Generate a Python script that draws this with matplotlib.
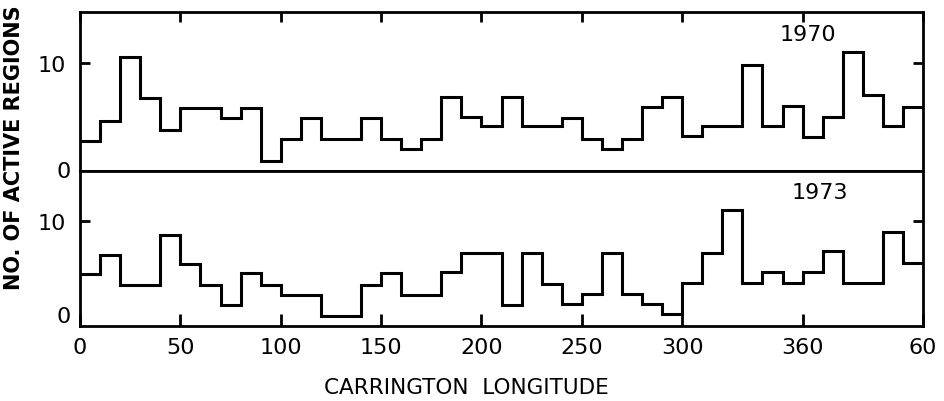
"""Active regions vs Carrington longitude, 1970 and 1973."""

import matplotlib.pyplot as plt
import numpy as np

# 10-degree bins, 0..360 then wrapped on to 60 (=420)
lon_edges = np.arange(0, 430, 10)

n_1970 = [2.7, 4.6, 10.5, 6.7, 3.8, 5.8, 5.8, 4.9, 5.8, 0.9,
          2.9, 4.9, 2.9, 2.9, 4.9, 2.9, 2.0, 2.9, 6.8, 5.0,
          4.1, 6.8, 4.1, 4.1, 4.9, 2.9, 2.0, 2.9, 5.9, 6.8,
          3.2, 4.1, 4.1, 9.8, 4.1, 6.0, 3.1, 5.0, 11.0, 7.0,
          4.1, 5.9]
n_1973 = [4.4, 6.4, 3.2, 3.2, 8.5, 5.5, 3.2, 1.1, 4.5, 3.2,
          2.2, 2.2, 0.0, 0.0, 3.2, 4.5, 2.2, 2.2, 4.6, 6.6,
          6.6, 1.1, 6.6, 3.3, 1.2, 2.3, 6.6, 2.3, 1.2, 0.2,
          3.4, 6.6, 11.1, 3.4, 4.6, 3.4, 4.6, 6.8, 3.4, 3.4,
          8.8, 5.6]

xtick_pos = [0, 50, 100, 150, 200, 250, 300, 360, 420]
xtick_lab = ["0", "50", "100", "150", "200", "250", "300", "360", "60"]

plt.rcParams["font.family"] = "DejaVu Sans"

W, H = 944, 402
fig = plt.figure(figsize=(W / 100, H / 100), dpi=100)
left, right = 80 / W, 923 / W
y_top, y_mid, y_bot = 1 - 12.7 / H, 1 - 171.7 / H, 1 - 326.7 / H
ax1 = fig.add_axes([left, y_mid, right - left, y_top - y_mid])
ax2 = fig.add_axes([left, y_bot, right - left, y_mid - y_bot])

for ax, n in ((ax1, n_1970), (ax2, n_1973)):
    ax.stairs(n, lon_edges, baseline=None, color="black", lw=2.2)
    ax.set_xlim(0, 420)
    ax.set_xticks(xtick_pos)
    ax.set_yticks([10])
    ax.set_yticklabels(["10"], fontsize=16)
    for s in ax.spines.values():
        s.set_linewidth(2.0)
    ax.tick_params(axis="y", direction="in", left=True, right=True,
                   length=7, width=2, color="black", pad=10)

ax1.set_ylim(0, 14.7)
ax1.tick_params(axis="x", direction="in", top=True, bottom=False,
                labelbottom=False, length=7, width=2, color="black")
ax1.text(808 / W, 1 - 35 / H, "1970", transform=fig.transFigure,
         fontsize=16, ha="center", va="center")

ax2.set_ylim(-1.06, 15.3)
ax2.set_xticklabels(xtick_lab, fontsize=16)
ax2.tick_params(axis="x", direction="in", top=False, bottom=True,
                length=9, width=2, color="black", pad=8)
ax2.text(820 / W, 1 - 193 / H, "1973", transform=fig.transFigure,
         fontsize=16, ha="center", va="center")

# zero labels of both panels, placed at their data zero on the left
for ax in (ax1, ax2):
    ax.annotate("0", xy=(0, 0), xycoords=("axes fraction", "data"),
                xytext=(-7, 0), textcoords="offset points",
                fontsize=16, ha="right", va="center")

fig.text(466 / W, 1 - 388 / H, "CARRINGTON  LONGITUDE",
         fontsize=15.5, ha="center", va="center")
fig.text(14 / W, 1 - 148 / H, "NO. OF ACTIVE REGIONS", rotation=90,
         fontsize=15, fontweight="bold", ha="center", va="center")

fig.savefig("out.png", dpi=100)
